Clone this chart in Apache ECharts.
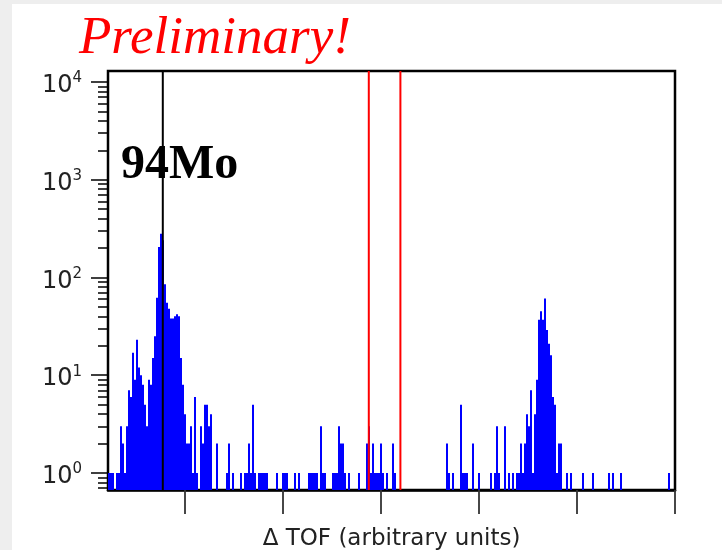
<!DOCTYPE html>
<html>
<head>
<meta charset="utf-8">
<script src="https://cdn.jsdelivr.net/npm/echarts@6/dist/echarts.min.js"></script>
<style>
html,body{margin:0;padding:0;background:#eeeeee;}
#panel{position:absolute;left:12px;top:4px;right:0;bottom:0;background:#fff;}
#main{position:absolute;left:0;top:0;width:722px;height:550px;}
</style>
</head>
<body>
<div id="panel"></div>
<div id="main"></div>
<script>
// histogram, non-empty bins only: left edge of bin (bin units) and counts
var bins = [0,1,2,4,5,6,7,8,9,10,11,12,13,14,15,16,17,18,19,20,21,22,23,24,25,26,27,28,29,30,
  31,32,33,34,35,36,37,38,39,40,41,42,43,44,46,47,48,49,50,51,54,59,60,62,66,68,69,70,71,72,
  73,75,76,77,78,79,84,87,88,89,93,95,100,101,102,103,104,106,107,108,112,113,114,115,116,117,118,120,125,129,
  130,131,132,133,134,135,136,137,139,142,143,169,170,172,176,177,178,179,182,185,191,193,194,195,198,200,202,204,205,206,
  207,208,209,210,211,212,213,214,215,216,217,218,219,220,221,222,223,224,225,226,229,231,237,242,250,252,256,280];
var counts = [1,1,1,1,1,3,2,1,3,7,6,17,9,23,12,10,8,5,3,9,8,15,25,62,205,280,240,85,55,48,
  38,38,40,42,40,15,8,4,2,2,3,1,6,1,3,2,5,5,3,4,2,1,2,1,1,1,1,2,1,5,
  1,1,1,1,1,1,1,1,1,1,1,1,1,1,1,1,1,3,1,1,1,1,1,3,2,2,1,1,1,2,
  3,1,2,1,1,1,2,1,1,2,1,2,1,1,5,1,1,1,2,1,1,1,3,1,3,1,1,1,1,2,
  1,2,4,3,7,1,4,9,37,45,37,61,29,21,16,6,5,1,2,2,1,1,1,1,1,1,1,1];

var gateLines = [27.4, 130.4, 146.2];
var gateColors = ['#000000', '#ff0000', '#ff0000'];

var xMax = 283.5;
var xTicks = [38.5, 87.5, 136.5, 185.5, 234.5, 283.5];
var yMin = -0.174, yMax = 4.112;   // log10(counts)
var decades = [0, 1, 2, 3, 4];
var minorMult = [2, 3, 4, 5, 6, 7, 8, 9];

var minorTicks = [];
for (var d = -1; d <= 3; d++) {
  minorMult.forEach(function (m) {
    var v = d + Math.log10(m);
    if (v >= yMin && v <= yMax) minorTicks.push(v);
  });
}

var histData = bins.map(function (b, i) { return [b, Math.log10(counts[i])]; });

var series = [{
  type: 'custom',
  data: histData,
  clip: true,
  renderItem: function (params, api) {
    var x0 = api.value(0);
    var p0 = api.coord([x0, yMin]);
    var p1 = api.coord([x0 + 1, api.value(1)]);
    return {
      type: 'rect',
      shape: {x: p0[0], y: p1[1], width: p1[0] - p0[0], height: p0[1] - p1[1]},
      style: {fill: '#0000ff'}
    };
  },
  z: 2
}];
gateLines.forEach(function (x, i) {
  series.push({
    type: 'line', symbol: 'none', silent: true, z: 3,
    data: [[x, yMin], [x, yMax]],
    lineStyle: {color: gateColors[i], width: 2}
  });
});

var chart = echarts.init(document.getElementById('main'));
chart.setOption({
  backgroundColor: 'transparent',
  animation: false,
  grid: {left: 108, right: 47, top: 71, bottom: 60, outerBoundsMode: 'none', containLabel: false,
    show: true, borderColor: '#000', borderWidth: 2.5},
  xAxis: {
    type: 'value', min: 0, max: xMax,
    axisLine: {show: true, onZero: false, lineStyle: {color: '#000', width: 2.5}},
    splitLine: {show: false},
    axisTick: {show: true, customValues: xTicks, length: 24, lineStyle: {color: '#333', width: 1.8}},
    axisLabel: {show: false},
    name: 'Δ TOF (arbitrary units)', nameLocation: 'middle', nameGap: 38,
    nameTextStyle: {fontFamily: 'DejaVu Sans', fontSize: 23, color: '#222'}
  },
  yAxis: [{
    type: 'value', min: yMin, max: yMax,
    axisLine: {show: false, onZero: false},
    splitLine: {show: false},
    axisTick: {customValues: decades, length: 17, lineStyle: {color: '#000', width: 1.5}},
    axisLabel: {
      customValues: decades, margin: 26, padding: [8, 0, 0, 0],
      formatter: function (v) { return '{b|10}{s|' + Math.round(v) + '}'; },
      rich: {
        b: {fontFamily: 'DejaVu Sans', fontSize: 24, color: '#222', lineHeight: 30},
        s: {fontFamily: 'DejaVu Sans', fontSize: 15, color: '#222', verticalAlign: 'top', lineHeight: 16}
      }
    }
  }, {
    type: 'value', min: yMin, max: yMax, position: 'left',
    axisLine: {show: false, onZero: false},
    splitLine: {show: false},
    axisTick: {customValues: minorTicks, length: 10, lineStyle: {color: '#000', width: 1.5}},
    axisLabel: {show: false}
  }],
  graphic: [{
    type: 'text', left: 79, top: 13,
    style: {text: 'Preliminary!', font: 'italic 53px "Liberation Serif"', fill: '#ff0000'}
  }, {
    type: 'text', left: 121, top: 142,
    style: {text: '94Mo', font: 'bold 48px "Liberation Serif"', fill: '#000'}
  }],
  series: series
});
</script>
</body>
</html>
